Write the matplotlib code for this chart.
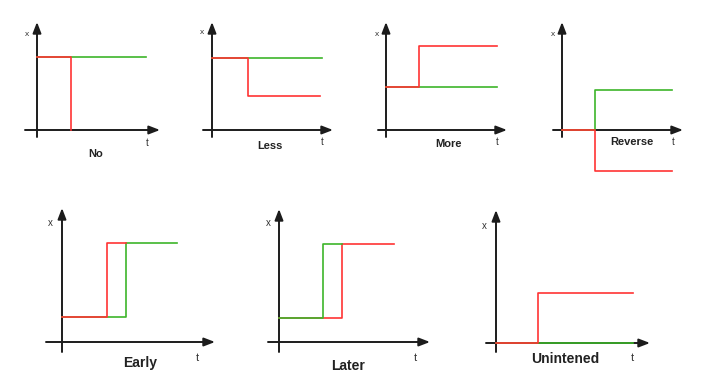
import matplotlib
matplotlib.use('Agg')
from matplotlib import pyplot as plt

plt.rcParams['font.family'] = ['Liberation Sans', 'DejaVu Sans']

# 各小图的名称
labels = ['No', 'Less', 'More', 'Reverse', 'Early', 'Later', 'Unintened']

# 期望值（绿色）阶跃序列：时刻与取值
green_t = [[0, 10.9], [0, 11.0], [0, 11.1], [0, 3.3, 11.0],
           [0, 6.4, 11.5], [0, 4.4, 6.3], [0, 13.7]]
green_x = [[7.3, 7.3], [7.2, 7.2], [4.3, 4.3], [0, 4.0, 4.0],
           [2.5, 9.9, 9.9], [2.4, 9.8, 9.8], [0, 0]]

# 实际值（红色）阶跃序列
red_t = [[0, 3.4], [0, 3.6, 10.8], [0, 3.3, 11.1], [0, 3.3, 11.0],
         [0, 4.5, 6.4], [0, 6.3, 11.5], [0, 4.2, 13.7]]
red_x = [[7.3, 0], [7.2, 3.4, 3.4], [4.3, 8.4, 8.4], [0, -4.1, -4.1],
         [2.5, 9.9, 9.9], [2.4, 9.8, 9.8], [0, 5.0, 5.0]]

# 哪条线在上层
red_on_top = [True, True, True, True, True, False, True]

# 版面：原点像素位置，坐标轴范围 (tmin, tmax, xmin, xmax)
origins = [(37, 130), (212, 130), (386, 130), (562, 130),
           (62, 342), (279, 342), (496, 343)]
limits = [(-1.2, 12.3, -0.7, 10.8), (-0.9, 12.1, -0.7, 10.8),
          (-0.8, 12.1, -0.7, 10.8), (-0.9, 12.1, -0.7, 10.8),
          (-1.6, 15.3, -1.0, 13.4), (-1.1, 15.1, -1.0, 13.3),
          (-1.0, 15.4, -0.9, 13.3)]
# 文字位置 (x标签, t标签, 名称)
x_pos = [(-1.0, 9.6), (-1.0, 9.7), (-0.9, 9.6), (-0.9, 9.6),
         (-1.2, 11.9), (-1.1, 11.9), (-1.2, 11.7)]
t_pos = [(11.0, -1.3), (11.0, -1.2), (11.1, -1.2), (11.1, -1.2),
         (13.5, -1.6), (13.6, -1.6), (13.6, -1.5)]
name_pos = [(5.9, -2.4), (5.8, -1.6), (6.2, -1.4), (7.0, -1.2),
            (7.8, -2.1), (6.9, -2.4), (6.9, -1.6)]

W, H = 708, 390
PX = 10.0  # 每个数据单位对应的像素

fig = plt.figure(figsize=(W / 100, H / 100), dpi=100)

for i in range(len(labels)):
    ox, oy = origins[i]
    t0, t1, x0, x1 = limits[i]
    left = ox + t0 * PX
    right = ox + t1 * PX
    top = oy - x1 * PX
    bottom = oy - x0 * PX
    ax = fig.add_axes([left / W, 1 - bottom / H, (right - left) / W, (bottom - top) / H])
    ax.set_xlim(t0, t1)
    ax.set_ylim(x0, x1)
    ax.axis('off')

    big = i >= 4
    arrow = dict(arrowstyle='-|>,head_length=0.65,head_width=0.25', color='#1c1c1c',
                 lw=1.4, shrinkA=0, shrinkB=0, mutation_scale=10)
    ax.annotate('', xy=(t1, 0), xytext=(t0, 0), arrowprops=arrow, zorder=1)
    ax.annotate('', xy=(0, x1), xytext=(0, x0), arrowprops=arrow, zorder=1)

    zr, zg = (4, 3) if red_on_top[i] else (3, 4)
    ax.step(green_t[i], green_x[i], where='post', color='#3db52a',
            lw=1.2, zorder=zg, clip_on=False)
    ax.step(red_t[i], red_x[i], where='post', color='#ff3333',
            lw=1.2, zorder=zr, clip_on=False)

    fs = 7 if big else 6
    ax.text(*x_pos[i], 'x', fontsize=fs, color='#333333', ha='center', va='center')
    ax.text(*t_pos[i], 't', fontsize=fs + 1, color='#333333', ha='center', va='center')
    ax.text(*name_pos[i], labels[i], fontsize=10 if big else 8, fontweight='bold',
            color='#222222', ha='center', va='center')

plt.savefig('out.png', dpi=100)
